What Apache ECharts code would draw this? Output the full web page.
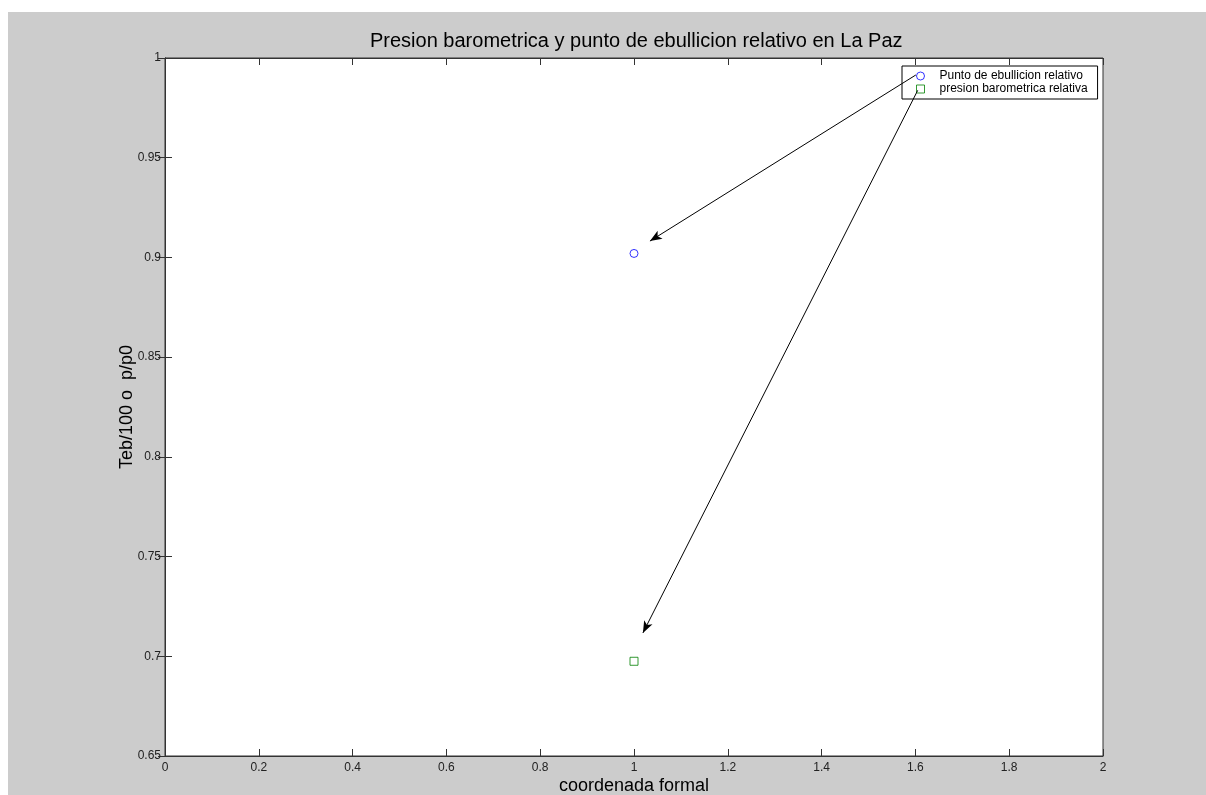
<!DOCTYPE html>
<html>
<head>
<meta charset="utf-8">
<script src="https://cdn.jsdelivr.net/npm/echarts@6/dist/echarts.min.js"></script>
<style>
html,body{margin:0;padding:0;background:#fff;}
#chart{width:1206px;height:795px;}
</style>
</head>
<body>
<div id="chart"></div>
<script>
// ---- data ----
const titleText = 'Presion barometrica y punto de ebullicion relativo en La Paz';
const xName = 'coordenada formal';
const yName = 'Teb/100 o  p/p0';
const seriesNames = ['Punto de ebullicion relativo', 'presion barometrica relativa'];
const boilingPoint = [[1, 0.902]];
const pressure = [[1, 0.6975]];
// annotation arrows (data coords): [start, end]
const arrowBoiling = [[1.601, 0.9915], [1.034, 0.9082]];
const arrowPressure = [[1.605, 0.9838], [1.019, 0.7117]];
const xRange = [0, 2, 0.2];
const yRange = [0.65, 1, 0.05];

const chart = echarts.init(document.getElementById('chart'), null, {renderer: 'canvas'});
const font = 'Liberation Sans, Arial, sans-serif';
const axisCol = '#333';

function arrowLine(a) {
  return [{coord: a[0]}, {coord: a[1]}];
}

const option = {
  backgroundColor: '#ffffff',
  animation: false,
  graphic: [{
    type: 'rect', z: -100, silent: true,
    shape: {x: 8, y: 12, width: 1198, height: 783},
    style: {fill: '#cccccc'}
  }],
  title: {
    text: titleText, left: 365, top: 26,
    textStyle: {fontFamily: font, fontSize: 20, fontWeight: 'normal', color: '#000'}
  },
  legend: {
    orient: 'vertical', left: 902, top: 66,
    padding: [4, 10, 4, 14],
    itemWidth: 8, itemHeight: 8, itemGap: 1,
    backgroundColor: '#fff', borderColor: '#000', borderWidth: 1, borderRadius: 0,
    textStyle: {fontFamily: font, fontSize: 12, color: '#000', padding: [0, 0, 0, 10]},
    data: [
      {name: seriesNames[0], icon: 'circle', itemStyle: {color: 'transparent', borderColor: '#0000ff', borderWidth: 1}},
      {name: seriesNames[1], icon: 'rect', itemStyle: {color: 'transparent', borderColor: '#008000', borderWidth: 1}}
    ]
  },
  grid: {
    left: 165, top: 58, right: 103, bottom: 39,
    outerBoundsMode: 'none',
    show: true, backgroundColor: '#fff', borderColor: axisCol, borderWidth: 1
  },
  xAxis: [{
    type: 'value', min: xRange[0], max: xRange[1], interval: xRange[2],
    name: xName, nameLocation: 'middle', nameGap: 21, nameMoveOverlap: false,
    nameTextStyle: {fontFamily: font, fontSize: 18, color: '#000'},
    axisLine: {show: true, lineStyle: {color: axisCol}},
    axisTick: {show: true, inside: true, length: 7, lineStyle: {color: axisCol}},
    axisLabel: {fontFamily: font, fontSize: 12, color: '#222', margin: 6},
    splitLine: {show: false}
  }, {
    type: 'value', position: 'top', min: xRange[0], max: xRange[1], interval: xRange[2],
    axisLine: {show: true, lineStyle: {color: axisCol}},
    axisTick: {show: true, inside: true, length: 7, lineStyle: {color: axisCol}},
    axisLabel: {show: false}, splitLine: {show: false}
  }],
  yAxis: [{
    type: 'value', min: yRange[0], max: yRange[1], interval: yRange[2],
    name: yName, nameLocation: 'middle', nameGap: 29, nameRotate: 90, nameMoveOverlap: false,
    nameTextStyle: {fontFamily: font, fontSize: 18, color: '#000'},
    axisLine: {show: true, lineStyle: {color: axisCol}},
    axisTick: {show: true, inside: true, length: 7, lineStyle: {color: axisCol}},
    axisLabel: {fontFamily: font, fontSize: 12, color: '#222', margin: 4},
    splitLine: {show: false}
  }, {
    type: 'value', position: 'right', min: yRange[0], max: yRange[1], interval: yRange[2],
    axisLine: {show: true, lineStyle: {color: axisCol}},
    axisTick: {show: true, inside: true, length: 7, lineStyle: {color: axisCol}},
    axisLabel: {show: false}, splitLine: {show: false}
  }],
  series: [{
    name: seriesNames[0], type: 'scatter', data: boilingPoint,
    symbol: 'circle', symbolSize: 8,
    itemStyle: {color: 'transparent', borderColor: '#0000ff', borderWidth: 1},
    emphasis: {disabled: true},
    markLine: {
      silent: true, symbol: ['none', 'arrow'], symbolSize: [7, 12],
      label: {show: false},
      lineStyle: {color: '#000', width: 1, type: 'solid'},
      emphasis: {disabled: true},
      data: [arrowLine(arrowBoiling)]
    }
  }, {
    name: seriesNames[1], type: 'scatter', data: pressure,
    symbol: 'rect', symbolSize: 8,
    itemStyle: {color: 'transparent', borderColor: '#008000', borderWidth: 1},
    emphasis: {disabled: true},
    markLine: {
      silent: true, symbol: ['none', 'arrow'], symbolSize: [7, 12],
      label: {show: false},
      lineStyle: {color: '#000', width: 1, type: 'solid'},
      emphasis: {disabled: true},
      data: [arrowLine(arrowPressure)]
    }
  }]
};
chart.setOption(option);
</script>
</body>
</html>
